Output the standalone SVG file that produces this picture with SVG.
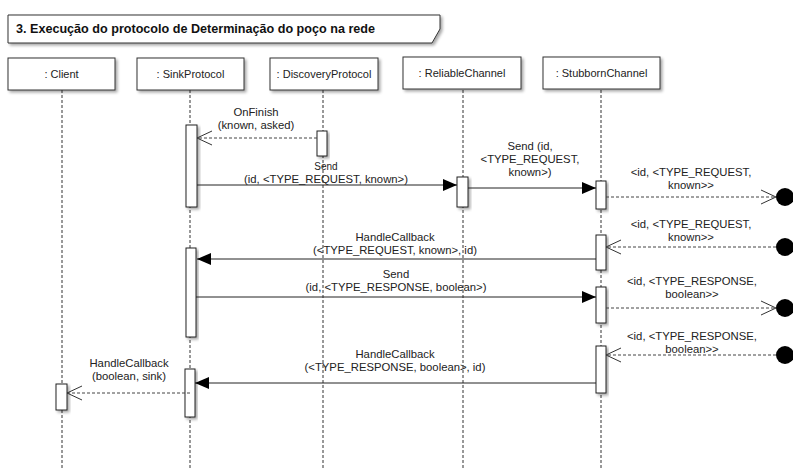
<svg xmlns="http://www.w3.org/2000/svg" width="793" height="470" viewBox="0 0 793 470">
  <style>
    text { font-family: "Liberation Sans", Arial, sans-serif; fill: #222; }
    .title { font-size: 12.6px; font-weight: bold; fill: #111; }
    .lbl { font-size: 11px; text-anchor: middle; }
    .msg { font-size: 11.3px; text-anchor: middle; }
    .box { fill: #fff; stroke: #333; stroke-width: 1; filter: url(#shadow); }
    .act { fill: #fff; stroke: #222; stroke-width: 1; filter: url(#shadow); }
    .life { stroke: #333; stroke-width: 1; stroke-dasharray: 3 2; fill: none; }
    .call { stroke: #222; stroke-width: 1; fill: none; marker-end: url(#filled); }
    .ret { stroke: #444; stroke-width: 1; stroke-dasharray: 3 2; fill: none; marker-end: url(#open); }
    .dot { fill: #000; }
  </style>
  <defs>
    <filter id="shadow" x="-30%" y="-30%" width="160%" height="160%">
      <feGaussianBlur in="SourceAlpha" stdDeviation="1.6"/>
      <feOffset dx="2" dy="2" result="b"/>
      <feComponentTransfer><feFuncA type="linear" slope="0.35"/></feComponentTransfer>
      <feMerge><feMergeNode/><feMergeNode in="SourceGraphic"/></feMerge>
    </filter>
    <marker id="filled" markerUnits="userSpaceOnUse" markerWidth="16" markerHeight="14" refX="14" refY="6" orient="auto">
      <path d="M0,0 L14,6 L0,12 Z" fill="#000"/>
    </marker>
    <marker id="open" markerUnits="userSpaceOnUse" markerWidth="18" markerHeight="18" refX="15.5" refY="8" orient="auto">
      <path d="M0.5,1 L15.5,8 L0.5,15" fill="none" stroke="#333" stroke-width="1"/>
    </marker>
  </defs>

  <!-- frame title -->
  <g id="frame-title">
    <path d="M8,15 H440 V29 L432,43 H8 Z" fill="#fff" stroke="#333" stroke-width="1" filter="url(#shadow)"/>
    <text class="title" x="16" y="33">3. Execução do protocolo de Determinação do poço na rede</text>
  </g>

  <!-- lifelines -->
  <g id="lifelines">
    <line class="life" x1="62" y1="90" x2="62" y2="470"/>
    <line class="life" x1="190" y1="90" x2="190" y2="470"/>
    <line class="life" x1="323" y1="90" x2="323" y2="470"/>
    <line class="life" x1="463" y1="90" x2="463" y2="470"/>
    <line class="life" x1="601" y1="90" x2="601" y2="470"/>
  </g>

  <g id="client">
    <rect class="box" x="8" y="58" width="107" height="32"/>
    <text class="lbl" x="61.5" y="77.5">: Client</text>
    <rect class="act" x="56" y="384" width="11" height="26"/>
  </g>

  <g id="sinkprotocol">
    <rect class="box" x="137" y="58" width="107" height="32"/>
    <text class="lbl" x="190.5" y="77.5">: SinkProtocol</text>
    <rect class="act" x="186" y="125" width="11" height="82"/>
    <rect class="act" x="186" y="248" width="10" height="89"/>
    <rect class="act" x="185" y="369" width="10" height="48"/>
  </g>

  <g id="discoveryprotocol">
    <rect class="box" x="270" y="58" width="108" height="32"/>
    <text class="lbl" x="324" y="77.5">: DiscoveryProtocol</text>
    <rect class="act" x="317" y="131" width="10" height="25"/>
  </g>

  <g id="reliablechannel">
    <rect class="box" x="403" y="57" width="118" height="32"/>
    <text class="lbl" x="462" y="76.5">: ReliableChannel</text>
    <rect class="act" x="457" y="177" width="11" height="30"/>
  </g>

  <g id="stubbornchannel">
    <rect class="box" x="543" y="57" width="117" height="32"/>
    <text class="lbl" x="601.5" y="76.5">: StubbornChannel</text>
    <rect class="act" x="596" y="181" width="10" height="28"/>
    <rect class="act" x="596" y="235" width="10" height="35"/>
    <rect class="act" x="596" y="287" width="10" height="36"/>
    <rect class="act" x="596" y="346" width="10" height="47"/>
  </g>

  <!-- lost / found message endpoints -->
  <g id="endpoints">
    <circle class="dot" cx="785" cy="197" r="9"/>
    <circle class="dot" cx="785" cy="247" r="9"/>
    <circle class="dot" cx="785" cy="308" r="9"/>
    <circle class="dot" cx="785" cy="355" r="9"/>
  </g>

  <!-- messages -->
  <g id="connectors">
    <line class="ret" x1="317" y1="138" x2="197" y2="138"/>
    <line class="call" x1="197" y1="185" x2="457" y2="185"/>
    <line class="call" x1="468" y1="188" x2="596" y2="188"/>
    <line class="ret" x1="606" y1="197" x2="776" y2="197"/>
    <line class="ret" x1="776" y1="247" x2="606" y2="247"/>
    <line class="call" x1="596" y1="259" x2="197" y2="259"/>
    <line class="call" x1="196" y1="297" x2="596" y2="297"/>
    <line class="ret" x1="606" y1="308" x2="776" y2="308"/>
    <line class="ret" x1="776" y1="355" x2="606" y2="355"/>
    <line class="call" x1="596" y1="383" x2="195" y2="383"/>
    <line class="ret" x1="190" y1="393" x2="67" y2="393"/>
  </g>

  <g id="labels">
    <text class="msg" x="256" y="116">OnFinish</text>
    <text class="msg" x="256" y="129">(known, asked)</text>

    <text class="msg" x="326" y="170" style="font-size:10px">Send</text>
    <text class="msg" x="326" y="183">(id, &lt;TYPE_REQUEST, known&gt;)</text>

    <text class="msg" x="530" y="150">Send (id,</text>
    <text class="msg" x="530" y="163">&lt;TYPE_REQUEST,</text>
    <text class="msg" x="530" y="176">known&gt;)</text>

    <text class="msg" x="691" y="176">&lt;id, &lt;TYPE_REQUEST,</text>
    <text class="msg" x="691" y="189">known&gt;&gt;</text>

    <text class="msg" x="691" y="228">&lt;id, &lt;TYPE_REQUEST,</text>
    <text class="msg" x="691" y="241">known&gt;&gt;</text>

    <text class="msg" x="395" y="241">HandleCallback</text>
    <text class="msg" x="395" y="254">(&lt;TYPE_REQUEST, known&gt;, id)</text>

    <text class="msg" x="396" y="278">Send</text>
    <text class="msg" x="396" y="291">(id, &lt;TYPE_RESPONSE, boolean&gt;)</text>

    <text class="msg" x="692" y="285">&lt;id, &lt;TYPE_RESPONSE,</text>
    <text class="msg" x="692" y="298">boolean&gt;&gt;</text>

    <text class="msg" x="692" y="340">&lt;id, &lt;TYPE_RESPONSE,</text>
    <text class="msg" x="692" y="353">boolean&gt;&gt;</text>

    <text class="msg" x="395" y="358">HandleCallback</text>
    <text class="msg" x="395" y="371">(&lt;TYPE_RESPONSE, boolean&gt;, id)</text>

    <text class="msg" x="129" y="367">HandleCallback</text>
    <text class="msg" x="129" y="380">(boolean, sink)</text>
  </g>
</svg>
